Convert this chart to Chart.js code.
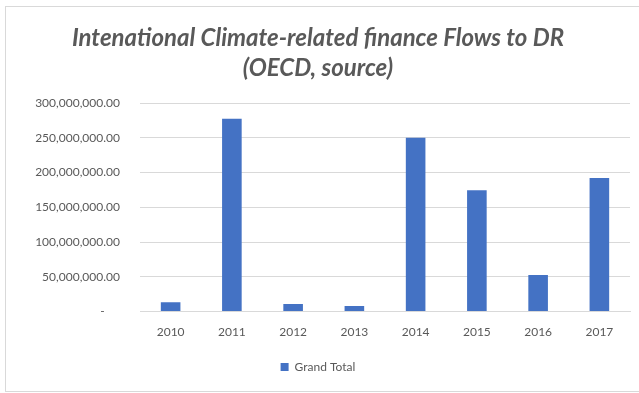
<!DOCTYPE html>
<html>
<head>
<meta charset="utf-8">
<script src="https://cdn.jsdelivr.net/npm/chart.js@4.4.0/dist/chart.umd.min.js"></script>
<style>
  html, body { margin: 0; padding: 0; background: #fff; overflow: hidden; }
  #frame {
    position: absolute; left: 5px; top: 6px;
    width: 636px; height: 384px;
    border: 1px solid #d9d9d9;
  }
  #flowsChart { display: block; }
</style>
</head>
<body>
<div id="frame"><canvas id="flowsChart" width="634" height="384"></canvas></div>
<script>
// Climate-related finance flows per year (USD)
const years = ['2010', '2011', '2012', '2013', '2014', '2015', '2016', '2017'];
const grandTotal = [13500000, 277500000, 11000000, 8200000, 250000000, 174500000, 52500000, 192000000];
const yTicks = [0, 50000000, 100000000, 150000000, 200000000, 250000000, 300000000];
const titleLines = ['Intenational Climate-related finance Flows to DR', '(OECD, source)'];

const textGray = '#595959';

document.addEventListener("DOMContentLoaded", () => {
  const ctx = document.getElementById('flowsChart').getContext('2d');
  new Chart(ctx, {
    type: 'bar',
    data: {
      labels: years,
      datasets: [{
        label: 'Grand Total',
        data: grandTotal,
        backgroundColor: '#4472C4',
        barPercentage: 0.64,
        categoryPercentage: 0.5
      }]
    },
    options: {
      responsive: false,
      animation: false,
      layout: { padding: { top: 0, right: 10, bottom: 8, left: 0 } },
      plugins: {
        title: {
          display: true,
          text: titleLines,
          color: textGray,
          font: { family: 'Lato', size: 24, weight: 'bold', style: 'italic', lineHeight: 1.25 },
          padding: { top: 16, bottom: 20 }
        },
        legend: {
          position: 'bottom',
          labels: {
            color: textGray,
            font: { family: 'Lato', size: 12 },
            boxWidth: 8,
            boxHeight: 8,
            padding: 9
          }
        },
        tooltip: { enabled: false }
      },
      scales: {
        x: {
          grid: { display: false, drawTicks: false },
          border: { color: '#d9d9d9' },
          ticks: { color: textGray, font: { family: 'Lato', size: 12 }, padding: 13 }
        },
        y: {
          min: 0,
          max: 300000000,
          afterFit: (scale) => { scale.width = 134; },
          afterBuildTicks: (scale) => { scale.ticks = yTicks.map(v => ({ value: v })); },
          grid: { color: '#d9d9d9', drawTicks: false },
          border: { display: false },
          ticks: {
            color: textGray,
            font: { family: 'Lato', size: 12 },
            padding: 20,
            callback: (v) => v === 0 ? '-     ' :
              v.toLocaleString('en-US', { minimumFractionDigits: 2, maximumFractionDigits: 2 })
          }
        }
      }
    }
  });
});
</script>
</body>
</html>
